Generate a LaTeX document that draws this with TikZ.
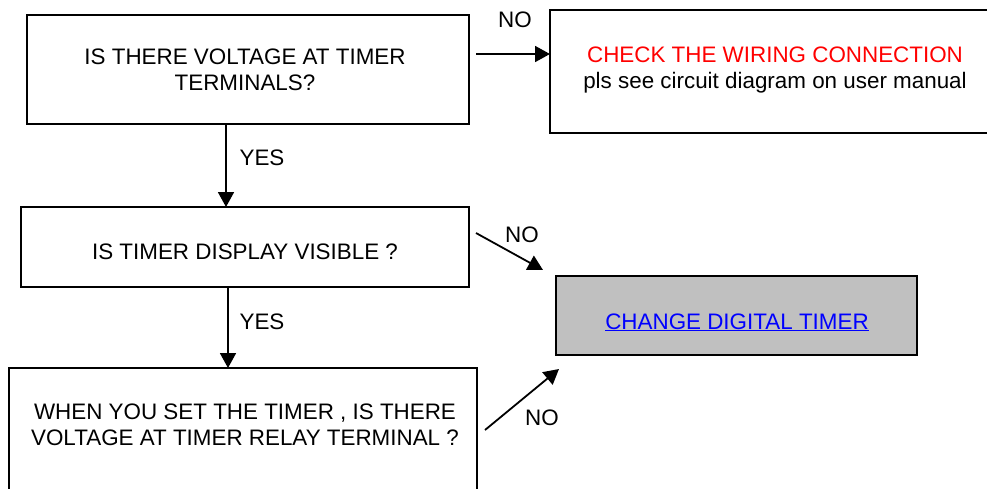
\documentclass[tikz,border=0pt]{standalone}
\usepackage{fontspec}
\setmainfont{Liberation Sans}
\usetikzlibrary{arrows.meta,calc}
\definecolor{boxgray}{HTML}{C0C0C0}
\definecolor{linkblue}{HTML}{0000FF}
\definecolor{warnred}{HTML}{FF0000}
\begin{document}
\begin{tikzpicture}[x=1pt,y=-1pt,
  box/.style={draw=black,line width=1.7pt,rectangle,inner sep=0pt,outer sep=0pt},
  txt/.style={align=center,inner sep=0pt,font=\fontsize{22.4}{26}\selectfont},
  lbl/.style={inner sep=0pt,font=\fontsize{22.4}{26}\selectfont},
  arr/.style={line width=1.8pt,-{Triangle[length=15pt,width=16pt]}}]
\useasboundingbox (0,0) rectangle (987,488);
\clip (0,0) rectangle (987,488);
\fill[white] (0,0) rectangle (987,488);
% boxes
\node[box,minimum width=442pt,minimum height=109pt] (b1) at (248,69.5) {};
\node[box,minimum width=450pt,minimum height=123pt] (b2) at (775,71.5) {};
\node[box,minimum width=448pt,minimum height=80pt] (b3) at (245,247) {};
\node[box,fill=boxgray,minimum width=361pt,minimum height=79pt] (b4) at (736.5,315.5) {};
\node[box,minimum width=468pt,minimum height=152pt] (b5) at (243,444) {};
% texts
\node[txt] (t1) at (245,70) {IS THERE VOLTAGE AT TIMER\\TERMINALS?};
\node[txt] (t2) at (775,70) {\textcolor{warnred}{CHECK THE WIRING CONNECTION}\\pls see circuit diagram on user manual};
\node[txt] (t3) at (245,252) {IS TIMER DISPLAY VISIBLE ?};
\node[lbl,anchor=base] (t4) at (737,329) {\textcolor{linkblue}{\underline{CHANGE DIGITAL TIMER}}};
\node[txt] (t5) at (245,425) {WHEN YOU SET THE TIMER , IS THERE\\VOLTAGE AT TIMER RELAY TERMINAL ?};
% connectors
\coordinate (a1s) at ($(b1.east)+(7,-15.5)$);
\draw[arr] (a1s) -- (a1s -| b2.west);
\coordinate (a2s) at ($(b1.south)+(-22,0)$);
\draw[arr] (a2s) -- (a2s |- b3.north);
\coordinate (a3s) at ($(b3.south)+(-17,0)$);
\draw[arr] (a3s) -- (a3s |- b5.north);
\coordinate (a4s) at ($(b3.north east)+(7,26)$);
\coordinate (a4e) at ($(b4.north west)+(-13,-6)$);
\draw[arr] (a4s) -- (a4e);
\coordinate (a5s) at ($(b5.north east)+(8,62)$);
\coordinate (a5e) at ($(b4.south west)+(3,14)$);
\draw[arr] (a5s) -- (a5e);
% labels
\node[lbl] (no1) at (515,20) {NO};
\node[lbl] (no2) at (522,235) {NO};
\node[lbl] (no3) at (542,418) {NO};
\node[lbl] (yes1) at (262,158) {YES};
\node[lbl] (yes2) at (262,322) {YES};
\end{tikzpicture}
\end{document}
